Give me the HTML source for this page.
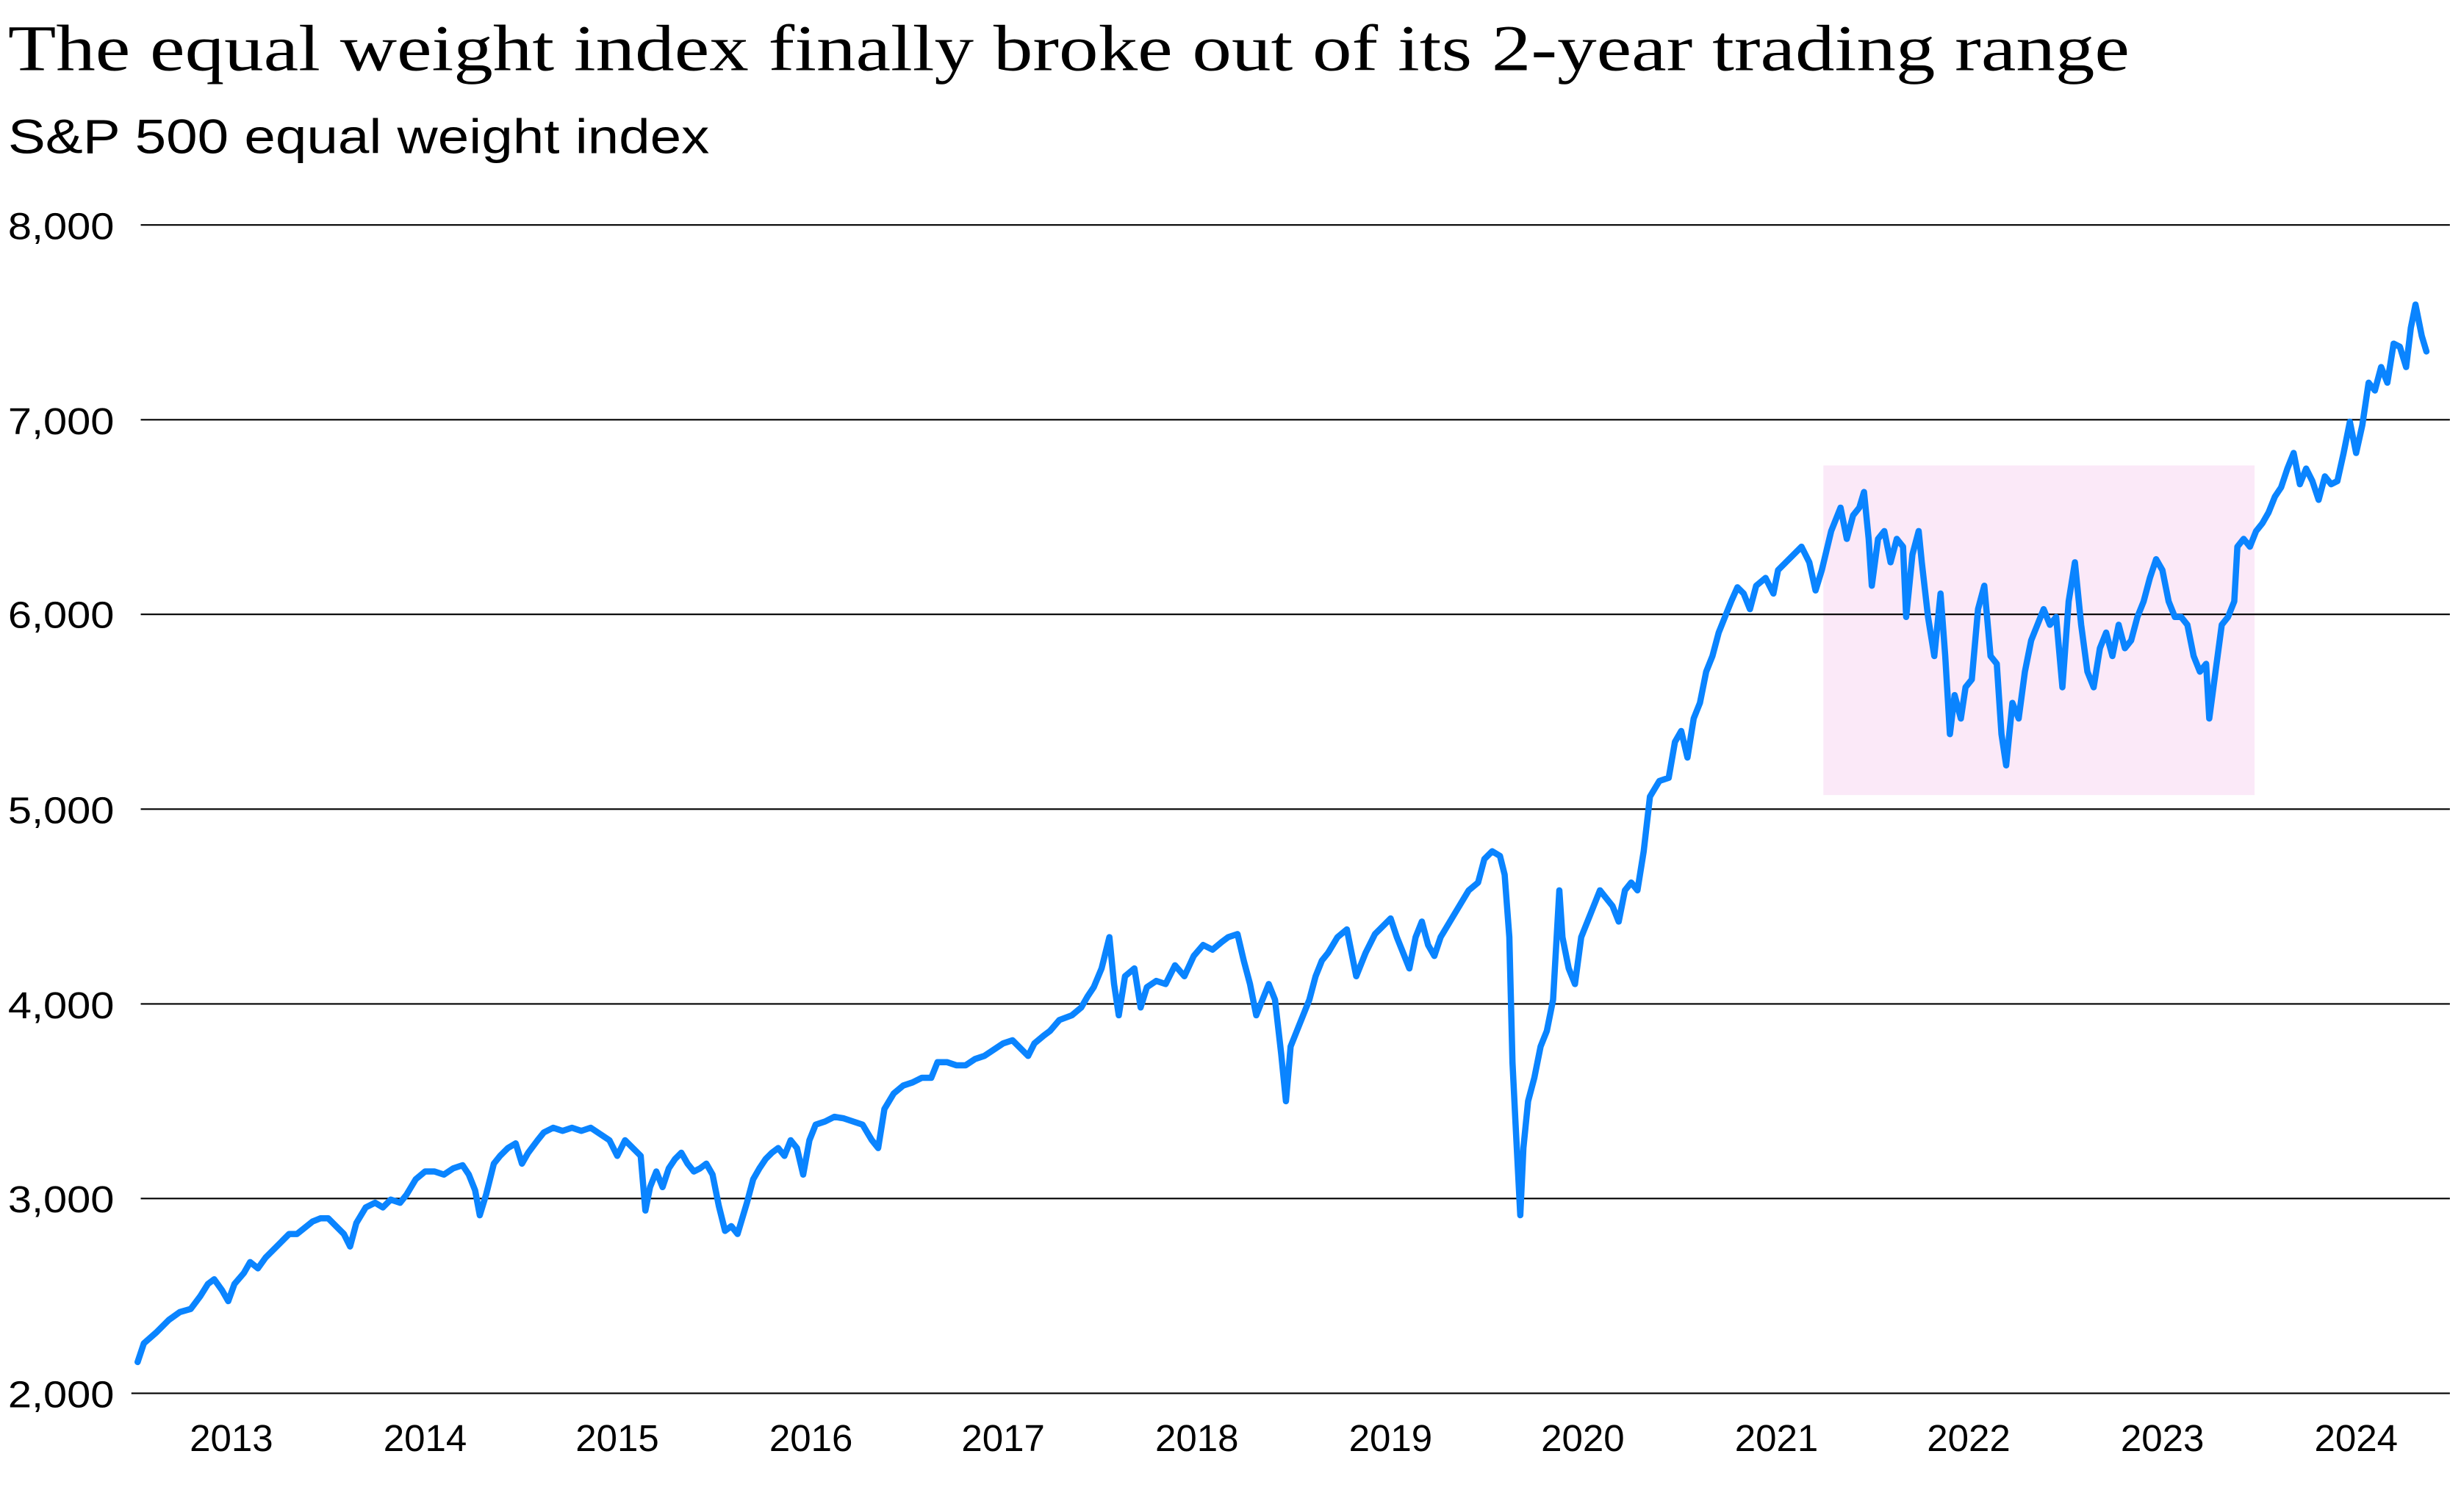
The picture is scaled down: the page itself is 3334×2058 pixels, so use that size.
<!DOCTYPE html>
<html><head><meta charset="utf-8"><style>html,body{margin:0;padding:0;background:#fff}svg{display:block}</style></head>
<body>
<svg width="3334" height="2058" viewBox="0 0 1568 968" xmlns="http://www.w3.org/2000/svg">
<rect width="1568" height="968" fill="#fff"/>
<text x="5" y="45" font-family="Liberation Serif, serif" font-size="42" textLength="1358" lengthAdjust="spacingAndGlyphs" fill="#000">The equal weight index finally broke out of its 2-year trading range</text>
<text x="5" y="98" font-family="Liberation Sans, sans-serif" font-size="31" textLength="449" lengthAdjust="spacingAndGlyphs" fill="#000">S&amp;P 500 equal weight index</text>
<rect x="1167" y="298" width="276" height="211" fill="#fbe9f8"/>
<g stroke="#000" stroke-width="1">
<line x1="90" y1="144" x2="1568" y2="144"/>
<line x1="90" y1="268.7" x2="1568" y2="268.7"/>
<line x1="90" y1="393.3" x2="1568" y2="393.3"/>
<line x1="90" y1="518" x2="1568" y2="518"/>
<line x1="90" y1="642.7" x2="1568" y2="642.7"/>
<line x1="90" y1="767.3" x2="1568" y2="767.3"/>
<line x1="84" y1="892" x2="1568" y2="892"/>
</g>
<g font-family="Liberation Sans, sans-serif" font-size="24" fill="#000">
<text x="5" y="153" textLength="68" lengthAdjust="spacingAndGlyphs">8,000</text>
<text x="5" y="278" textLength="68" lengthAdjust="spacingAndGlyphs">7,000</text>
<text x="5" y="402" textLength="68" lengthAdjust="spacingAndGlyphs">6,000</text>
<text x="5" y="527" textLength="68" lengthAdjust="spacingAndGlyphs">5,000</text>
<text x="5" y="652" textLength="68" lengthAdjust="spacingAndGlyphs">4,000</text>
<text x="5" y="776" textLength="68" lengthAdjust="spacingAndGlyphs">3,000</text>
<text x="5" y="901" textLength="68" lengthAdjust="spacingAndGlyphs">2,000</text>
</g>
<g font-family="Liberation Sans, sans-serif" font-size="24" fill="#000" text-anchor="middle">
<text x="148" y="929">2013</text><text x="272" y="929">2014</text><text x="395" y="929">2015</text><text x="519" y="929">2016</text><text x="642" y="929">2017</text><text x="766" y="929">2018</text><text x="890" y="929">2019</text><text x="1013" y="929">2020</text><text x="1137" y="929">2021</text><text x="1260" y="929">2022</text><text x="1384" y="929">2023</text><text x="1508" y="929">2024</text>
</g>
<polyline fill="none" stroke="#0a84ff" stroke-width="4" stroke-linejoin="round" stroke-linecap="round" points="88,872 92,860 100,853 108,845 115,840 122,838 128,830 133,822 137,819 142,826 146,833 150,822 156,815 160,808 165,812 170,805 175,800 180,795 185,790 190,790 195,786 200,782 205,780 210,780 215,785 220,790 224,798 228,783 234,773 240,770 245,773 250,768 256,770 260,765 266,755 272,750 278,750 284,752 290,748 296,746 300,752 304,762 307,778 311,765 316,745 320,740 325,735 330,732 334,745 338,738 344,730 348,725 354,722 360,724 366,722 372,724 378,722 384,726 390,730 395,740 400,730 405,735 410,740 413,775 416,760 420,750 424,760 428,748 432,742 436,738 440,745 444,750 448,748 452,745 456,752 460,772 464,788 468,785 472,790 475,780 478,770 482,755 486,748 490,742 494,738 498,735 502,740 506,730 510,735 514,752 518,730 522,720 528,718 534,715 540,716 546,718 552,720 558,730 562,735 566,710 572,700 578,695 584,693 590,690 596,690 600,680 606,680 612,682 618,682 624,678 630,676 636,672 642,668 648,666 654,672 658,676 662,668 668,663 672,660 678,653 686,650 692,645 696,638 700,632 705,620 710,600 713,630 716,650 720,625 726,620 730,645 734,632 740,628 746,630 752,618 758,625 764,612 770,605 776,608 782,603 786,600 792,598 796,615 800,630 804,650 808,640 812,630 816,640 820,675 823,705 826,670 830,660 834,650 838,640 842,625 846,615 850,610 856,600 862,595 868,625 874,610 880,598 886,592 890,588 894,600 898,610 902,620 906,600 910,590 914,605 918,612 922,600 928,590 934,580 940,570 946,565 950,550 955,545 960,548 963,560 966,600 968,680 970,720 973,778 975,735 978,705 982,690 986,670 990,660 994,640 998,570 1000,600 1004,620 1008,630 1012,600 1016,590 1020,580 1024,570 1028,575 1032,580 1036,590 1040,570 1044,565 1048,570 1052,545 1056,510 1062,500 1068,498 1072,475 1076,468 1080,485 1084,460 1088,450 1092,430 1096,420 1100,405 1104,395 1108,385 1112,376 1116,380 1120,390 1124,375 1130,370 1135,380 1138,365 1143,360 1148,355 1153,350 1158,360 1162,378 1166,365 1172,340 1178,325 1182,345 1186,330 1190,325 1193,315 1196,345 1198,375 1202,345 1206,340 1210,360 1214,345 1218,350 1220,395 1224,355 1228,340 1230,360 1234,395 1238,420 1242,380 1245,420 1248,470 1251,445 1255,460 1258,440 1262,435 1266,390 1270,375 1274,420 1278,425 1281,470 1284,490 1288,450 1292,460 1296,430 1300,410 1304,400 1308,390 1312,400 1316,395 1320,440 1324,385 1328,360 1332,400 1336,430 1340,440 1344,415 1348,405 1352,420 1356,400 1360,415 1364,410 1368,395 1372,385 1376,370 1380,358 1384,365 1388,385 1392,395 1396,395 1400,400 1404,420 1408,430 1412,425 1414,460 1418,430 1422,400 1426,395 1430,385 1432,350 1436,345 1440,350 1444,340 1448,335 1452,328 1456,318 1460,312 1464,300 1468,290 1472,310 1476,300 1480,308 1484,320 1488,305 1492,310 1496,308 1500,290 1504,270 1508,290 1512,272 1516,245 1520,250 1524,235 1528,245 1532,220 1536,222 1540,235 1543,210 1546,195 1550,215 1553,225"/>
</svg>
</body></html>
